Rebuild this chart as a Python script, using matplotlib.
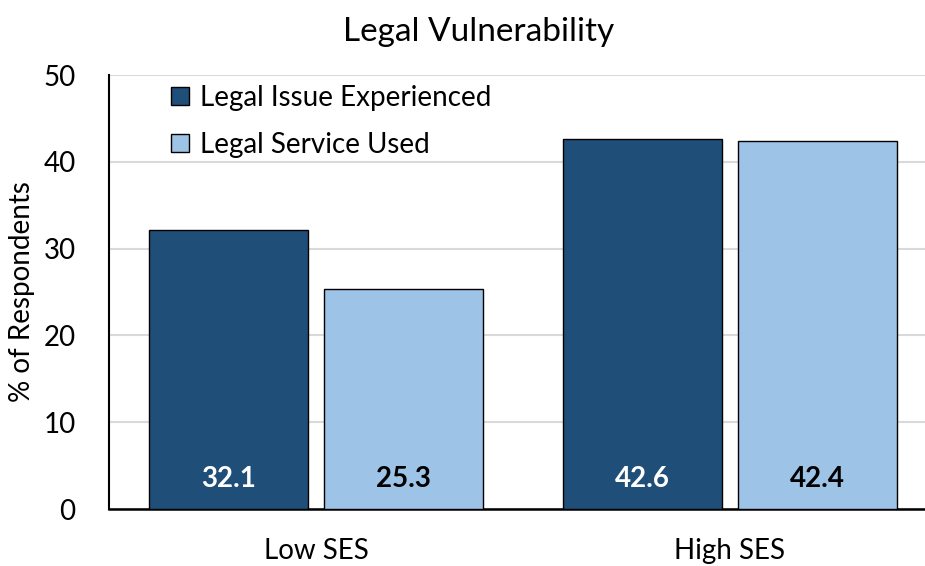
import matplotlib
matplotlib.use("Agg")
import matplotlib.pyplot as plt
import numpy as np
from matplotlib.patches import Patch

categories = ["Low SES", "High SES"]
series_names = ["Legal Issue Experienced", "Legal Service Used"]
issue_experienced = [32.1, 42.6]
service_used = [25.3, 42.4]
yticks = [0, 10, 20, 30, 40, 50]

plt.rcParams['font.family'] = ['Lato', 'DejaVu Sans']

fig = plt.figure(figsize=(9.25, 5.66), dpi=100)
ax = fig.add_axes([109/925, 57/566, (937-109)/925, 434/566])

x = np.arange(len(categories))
w = 0.384
off = 0.212
dark = "#1F4E79"
light = "#9DC3E6"
ax.bar(x - off, issue_experienced, w, color=dark, edgecolor="black", linewidth=1, zorder=3)
ax.bar(x + off, service_used, w, color=light, edgecolor="black", linewidth=1, zorder=3)

for xi, v in zip(x - off, issue_experienced):
    ax.text(xi, 3.4, f"{v:.1f}", ha="center", va="center", color="white", fontsize=20, fontweight="bold", zorder=4)
for xi, v in zip(x + off, service_used):
    ax.text(xi, 3.4, f"{v:.1f}", ha="center", va="center", color="black", fontsize=20, fontweight="bold", zorder=4)

ax.set_xlim(-0.5, 1.5)
ax.set_ylim(0, 50)
ax.set_yticks(yticks)
ax.set_xticks(x)
ax.set_xticklabels(categories, fontsize=20)
ax.tick_params(axis="y", labelsize=20, length=0, pad=24)
ax.tick_params(axis="x", length=0, pad=21)
ax.grid(axis="y", color="#D9D9D9", linewidth=1.5, zorder=0)
for s in ["top", "right"]:
    ax.spines[s].set_visible(False)
ax.spines["left"].set_linewidth(1.5)
ax.spines["bottom"].set_linewidth(1.8)
ax.set_ylabel("% of Respondents", fontsize=20, labelpad=6)
fig.text(479/925, 1 - 32/566, "Legal Vulnerability", ha="center", va="center", fontsize=24)

handles = [Patch(facecolor=dark, edgecolor="black"), Patch(facecolor=light, edgecolor="black")]
ax.legend(handles, series_names, loc="upper left", bbox_to_anchor=(0.045, 1.035), frameon=False,
          fontsize=20, handlelength=0.65, handleheight=0.65, handletextpad=0.4, labelspacing=0.75)

fig.savefig("out.png", dpi=100)
